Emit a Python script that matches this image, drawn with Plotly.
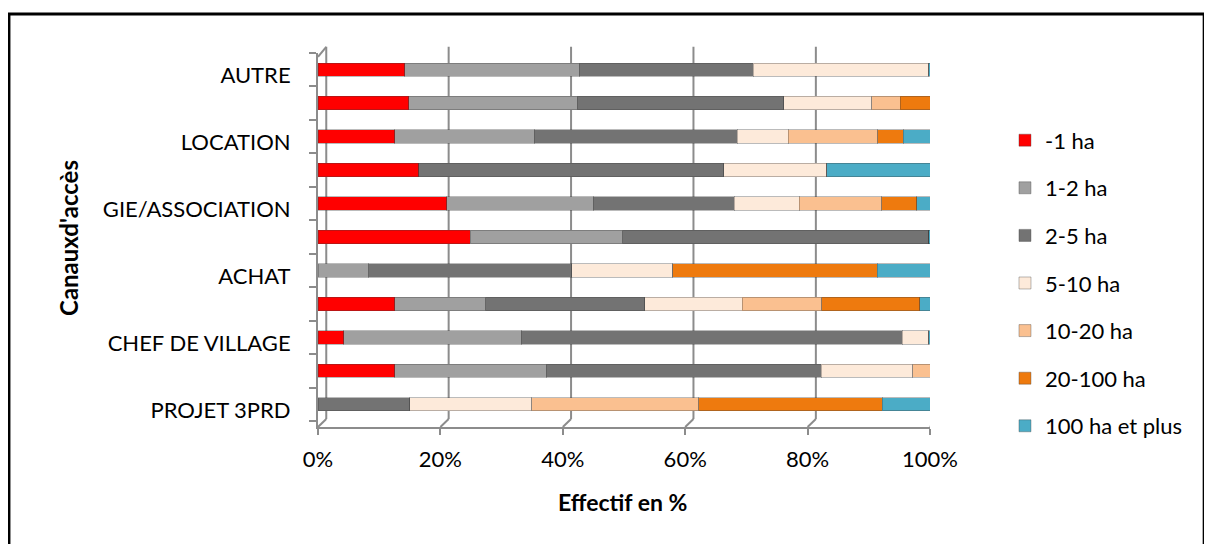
import plotly.graph_objects as go

# Categories bottom -> top (Excel shows only every other label)
categories = ["PROJET 3PRD", "", "CHEF DE VILLAGE", "", "ACHAT", "",
              "GIE/ASSOCIATION", "", "LOCATION", "", "AUTRE"]
positions = list(range(len(categories)))
label_positions = [0, 2, 4, 6, 8, 10]
label_texts = ["PROJET 3PRD", "CHEF DE VILLAGE", "ACHAT", "GIE/ASSOCIATION", "LOCATION", "AUTRE"]

series_names = ["-1 ha", "1-2 ha", "2-5 ha", "5-10 ha", "10-20 ha", "20-100 ha", "100 ha et plus"]

s_lt1 = [0.0, 12.5, 4.2, 12.5, 0.0, 24.9, 21.0, 16.5, 12.5, 14.8, 14.2]
s_1_2 = [0.0, 24.8, 29.0, 14.9, 8.3, 24.9, 24.0, 0.0, 22.8, 27.6, 28.5]
s_2_5 = [15.0, 44.9, 62.3, 26.0, 33.2, 50.0, 23.0, 49.8, 33.2, 33.7, 28.4]
s_5_10 = [19.9, 15.0, 4.3, 15.9, 16.5, 0.0, 10.6, 16.8, 8.3, 14.4, 28.7]
s_10_20 = [27.3, 2.8, 0.0, 13.0, 0.0, 0.0, 13.5, 0.0, 14.7, 4.6, 0.0]
s_20_100 = [30.0, 0.0, 0.0, 16.0, 33.4, 0.0, 5.7, 0.0, 4.1, 4.9, 0.0]
s_100p = [7.8, 0.0, 0.2, 1.7, 8.6, 0.2, 2.2, 16.9, 4.4, 0.0, 0.2]

series_values = [s_lt1, s_1_2, s_2_5, s_5_10, s_10_20, s_20_100, s_100p]
colors = ["#FF0000", "#A0A0A0", "#737373", "#FDEADA", "#FAC090", "#EE7A0E", "#4BACC6"]

FONT = "Lato"
LABEL_DROP = 0.17  # Excel 3-D labels sit slightly below the bar's front face

fig = go.Figure()
for i, (name, vals, col) in enumerate(zip(series_names, series_values, colors)):
    fig.add_trace(go.Bar(
        y=positions, x=vals, name=name, orientation="h",
        marker=dict(color=col, line=dict(color="rgba(60,60,60,0.35)", width=1)),
        legendgroup=f"g{i}",
    ))

grid_col = "#8C8C8C"
dx = 1.35  # depth offset of back wall (in % units)
dy = 0.0215  # depth offset (paper units)
shapes = []
for v in [0, 20, 40, 60, 80, 100]:
    shapes.append(dict(type="line", xref="x", yref="paper", x0=v + dx, x1=v + dx,
                       y0=dy, y1=1 + dy - 0.005, line=dict(color=grid_col, width=2), layer="below"))
    shapes.append(dict(type="line", xref="x", yref="paper", x0=v, x1=v + dx,
                       y0=0, y1=dy, line=dict(color=grid_col, width=2), layer="below"))
# left wall top diagonal
shapes.append(dict(type="line", xref="x", yref="paper", x0=0, x1=dx, y0=0.99, y1=1 + dy - 0.005,
                   line=dict(color=grid_col, width=2), layer="below"))
# outer border
shapes.append(dict(type="rect", xref="paper", yref="paper", x0=-0.505, x1=1.448, y0=-0.6, y1=1.104,
                   line=dict(color="black", width=3)))

fig.update_layout(
    barmode="stack",
    bargap=0.6,
    width=1212, height=544,
    margin=dict(l=310, r=290, t=45, b=125),
    paper_bgcolor="white", plot_bgcolor="white",
    font=dict(family=FONT, size=22, color="black"),
    shapes=shapes,
    showlegend=True,
    legend=dict(x=1.1225, y=0.384, xanchor="left", yanchor="middle",
                traceorder="grouped", tracegroupgap=16,
                font=dict(family=FONT, size=22, color="black"),
                itemwidth=30, bgcolor="rgba(0,0,0,0)"),
    xaxis=dict(range=[0, 100], tickvals=[0, 20, 40, 60, 80, 100],
               ticktext=["0%", "20%", "40%", "60%", "80%", "100%"],
               showgrid=False, zeroline=False,
               showline=True, linecolor=grid_col, linewidth=2,
               ticks="outside", ticklen=6, tickcolor=grid_col, tickwidth=2,
               ticklabelstandoff=6, tickfont=dict(size=22)),
    yaxis=dict(range=[-0.68, 10.5], tickvals=[p - LABEL_DROP for p in label_positions],
               ticktext=label_texts,
               showgrid=False, zeroline=False,
               showline=True, linecolor=grid_col, linewidth=2,
               ticks="", ticklabelstandoff=21, tickfont=dict(size=22),
               minor=dict(tickvals=[k - 0.5 for k in range(12)], ticks="outside",
                          ticklen=7, tickcolor=grid_col, tickwidth=2, showgrid=False)),
    annotations=[
        dict(text="<b>Effectif en %</b>", xref="paper", yref="paper",
             x=(622 - 318) / 612, y=(427 - 502) / 374, xanchor="center", yanchor="middle",
             showarrow=False, font=dict(family=FONT, size=23)),
        dict(text="<b>Canauxd'accès</b>", xref="paper", yref="paper",
             x=(68 - 318) / 612, y=(427 - 238) / 374, xanchor="center", yanchor="middle",
             textangle=-90, showarrow=False, font=dict(family=FONT, size=24)),
    ],
)

fig.write_html("out.html")
